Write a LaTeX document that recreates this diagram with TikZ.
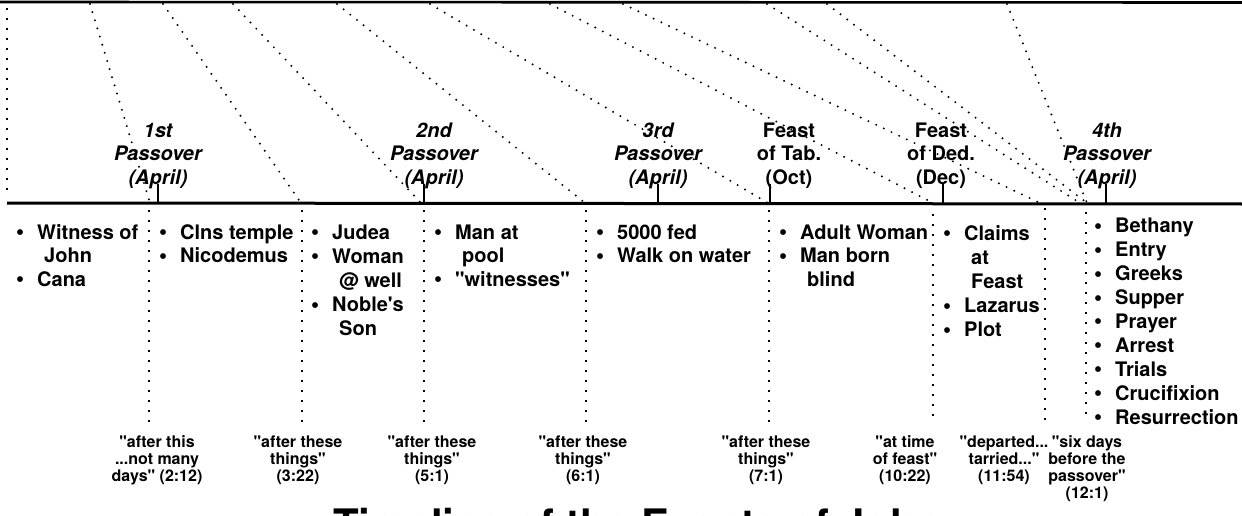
\documentclass[tikz,border=0pt]{standalone}
\usepackage{fontspec}
\setmainfont{TeX Gyre Heros}[Ligatures=TeXOff]
\newfontfamily\dejavu{DejaVu Sans}
\newcommand\bul{\makebox[0pt][c]{\raisebox{4.5pt}{\dejavu\fontsize{7.5}{7.5}\selectfont ●}}\hspace*{17pt}}
\newcommand\cnt{\hspace*{24pt}}
\begin{document}
\begin{tikzpicture}[x=1pt,y=-1pt,
  dotline/.style={line width=2.2pt, dash pattern=on 0pt off 8.5pt, line cap=round},
  vdots/.style={line width=1.2pt, dash pattern=on 2.4pt off 7.6pt},
  feastit/.style={font=\fontsize{20}{23.5}\selectfont\bfseries\itshape, align=center, inner sep=0pt, anchor=base},
  feastup/.style={font=\fontsize{20}{23.5}\selectfont\bfseries, align=center, inner sep=0pt, anchor=base},
  blist/.style={font=\fontsize{20}{23.5}\selectfont\bfseries, align=left, inner sep=0pt, anchor=base west},
  blistw/.style={font=\fontsize{20}{24.2}\selectfont\bfseries, align=left, inner sep=0pt, anchor=base west},
  blistl/.style={font=\fontsize{20}{23.9}\selectfont\bfseries, align=left, inner sep=0pt, anchor=base west},
  quote/.style={font=\fontsize{16}{17}\selectfont\bfseries, align=center, inner sep=0pt, anchor=base},
  tick/.style={line width=1.3pt},
  rule/.style={line width=3pt}
]
\useasboundingbox (0,0) rectangle (1242,516);
\clip (0,0) rectangle (1242,516);

% top rule and timeline
\coordinate (topL) at (0,2);
\coordinate (topR) at (1242,2.5);
\draw[rule, line width=2.6pt] (topL) -- (topR);
\coordinate (tlL) at (7,203);
\coordinate (tlR) at (1242,204);
\draw[rule] (tlL) -- (tlR);

% left border dots
\coordinate (l0a) at (7,8);
\coordinate (l0b) at (7,192);
\draw[vdots] (l0a) -- (l0b);

% slanted dotted lines from top rule to timeline
\foreach \n/\xa/\xb in {1/90/150, 2/163/301, 3/233/421, 4/337/585, 5/430/768,
                        6/550/933, 7/623/1040, 8/767/1080, 9/827/1087, 10/1007/1087}{
  \coordinate (t\n) at (\xa,4);
  \coordinate (b\n) at (\xb,203);
  \draw[dotline] (t\n) -- (b\n);
}

% vertical dotted lines below timeline
\foreach \n/\x/\ya/\yb in {1/149/210/425, 2/302/210/425, 3/424/210/425, 4/586/210/425,
                           5/769/210/425, 6/933/214/420, 7/1045/208/426, 8/1086/212/420}{
  \coordinate (v\n a) at (\x,\ya);
  \coordinate (v\n b) at (\x,\yb);
  \draw[vdots] (v\n a) -- (v\n b);
}

% ticks
\foreach \n/\x in {1/158, 2/424, 3/658, 4/770, 5/943, 6/1106}{
  \coordinate (k\n a) at (\x,203);
  \coordinate (k\n b) at (\x,184);
  \draw[tick] (k\n a) -- (k\n b);
}

% feast labels (anchor = baseline of last line)
\node[feastit] (p1) at (158,184) {1st\\Passover\\(April)};
\node[feastit] (p2) at (434,184) {2nd\\Passover\\(April)};
\node[feastit] (p3) at (658,184) {3rd\\Passover\\(April)};
\node[feastup] (f1) at (789,184) {Feast\\of Tab.\\(Oct)};
\node[feastup] (f2) at (941,184) {Feast\\of Ded.\\(Dec)};
\node[feastit] (p4) at (1107,184) {4th\\Passover\\(April)};

% bullet lists (anchor = baseline of last line)
\node[blist] (c1) at (20,286) {\bul Witness of\\\cnt John\\\bul Cana};
\node[blist] (c2) at (163,262.5) {\bul Clns temple\\\bul Nicodemus};
\node[blistw] (c3) at (315,335.8) {\bul Judea\\\bul Woman\\\cnt @ well\\\bul Noble's\\\cnt Son};
\node[blist] (c4) at (438,286) {\bul Man at\\\cnt pool\\\bul "witnesses"};
\node[blist] (c5) at (600,262.5) {\bul 5000 fed\\\bul Walk on water};
\node[blist] (c6) at (783,286) {\bul Adult Woman\\\bul Man born\\\cnt blind};
\node[blistw] (c7) at (947,336.8) {\bul Claims\\\cnt at\\\cnt Feast\\\bul Lazarus\\\bul Plot};
\node[blistl] (c8) at (1098,424) {\bul Bethany\\\bul Entry\\\bul Greeks\\\bul Supper\\\bul Prayer\\\bul Arrest\\\bul Trials\\\bul Crucifixion\\\bul Resurrection};

% quotes (anchor = baseline of last line)
\node[quote] (q1) at (157,481) {"after this\\...not many\\days" (2:12)};
\node[quote] (q2) at (298,481) {"after these\\things"\\(3:22)};
\node[quote] (q3) at (432,481) {"after these\\things"\\(5:1)};
\node[quote] (q4) at (583,481) {"after these\\things"\\(6:1)};
\node[quote] (q5) at (766,481) {"after these\\things"\\(7:1)};
\node[quote] (q6) at (905,481) {"at time\\of feast"\\(10:22)};
\node[quote] (q7) at (1004,481) {"departed...\\tarried..."\\(11:54)};
\node[quote] (q8) at (1087,498) {"six days\\before the\\passover"\\(12:1)};

% title (cut off by the picture's lower edge)
\node[font=\fontsize{42}{42}\selectfont\bfseries, inner sep=0pt, anchor=base west] (title) at (333,539) {Timeline of the Events of John};
\end{tikzpicture}
\end{document}
